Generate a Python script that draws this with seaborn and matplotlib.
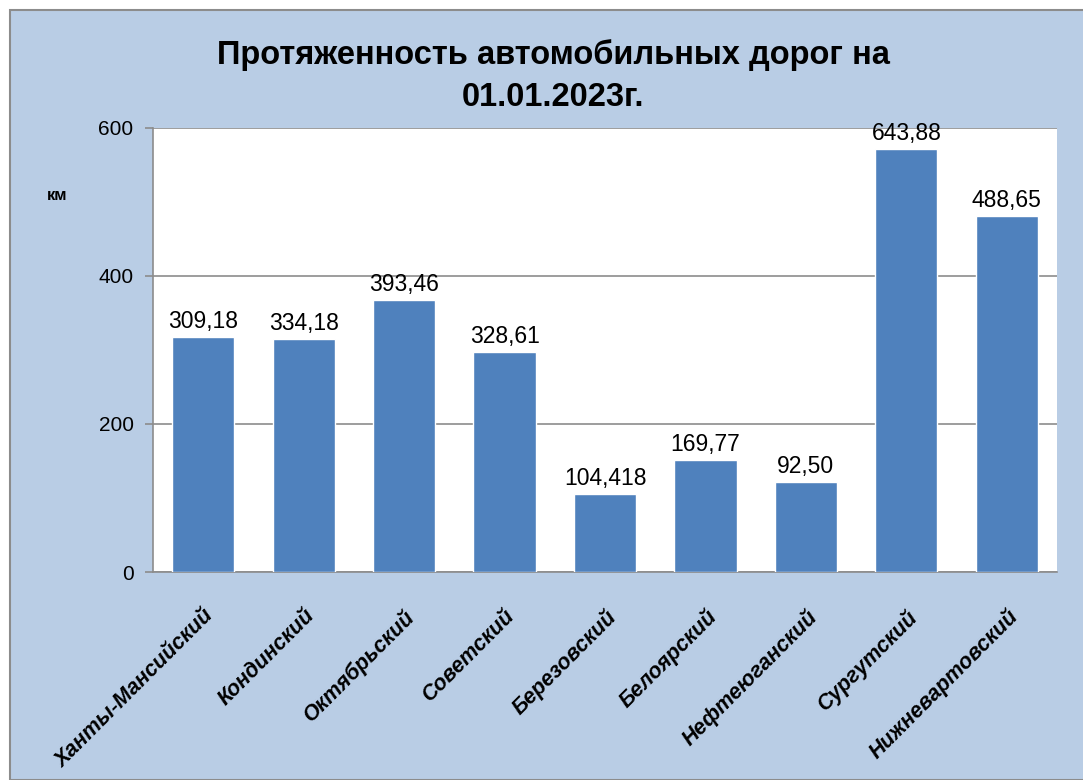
import matplotlib
matplotlib.use('Agg')
import matplotlib.pyplot as plt
import seaborn as sns
import pandas as pd

# районы и длины дорог (высоты столбцов, подписи - как на исходнике)
districts = ['Ханты-Мансийский', 'Кондинский', 'Октябрьский', 'Советский', 'Березовский',
             'Белоярский', 'Нефтеюганский', 'Сургутский', 'Нижневартовский']
heights = [317, 315, 367, 297, 105, 151, 122, 571, 481]
value_labels = ['309,18', '334,18', '393,46', '328,61', '104,418',
                '169,77', '92,50', '643,88', '488,65']
y_ticks = [0, 200, 400, 600]

df = pd.DataFrame({'district': districts, 'km': heights})

sns.set_style('white')
plt.rcParams['font.family'] = ['Liberation Sans', 'DejaVu Sans']
plt.rcParams['text.color'] = 'black'
plt.rcParams['xtick.color'] = 'black'
plt.rcParams['ytick.color'] = 'black'

fig = plt.figure(figsize=(10.83, 7.80), dpi=100)
fig.patch.set_facecolor('white')
# голубая подложка диаграммы
bg = plt.Rectangle((10 / 1083, 0), 1.0, 1 - 10 / 780, transform=fig.transFigure,
                   facecolor='#B9CDE5', edgecolor='#8C8C8C', linewidth=1.5, zorder=-5)
fig.patches.append(bg)

ax = fig.add_axes([153 / 1083, 1 - 572 / 780, (1057 - 153) / 1083, (572 - 128) / 780])
ax.set_zorder(2)
ax.set_facecolor('white')

sns.barplot(data=df, x='district', y='km', color='#4F81BD', width=0.62,
            saturation=1, ax=ax, zorder=3)

for i, (h, lab) in enumerate(zip(heights, value_labels)):
    ax.annotate(lab, (i, h), xytext=(0, 3), textcoords='offset points',
                ha='center', va='bottom', fontsize=16.5, color='black', zorder=4)

ax.set_xlim(-0.5, len(districts) - 0.5)
ax.set_ylim(0, 600)
ax.set_yticks(y_ticks)
ax.set_yticklabels([str(t) for t in y_ticks], fontsize=15)
ax.yaxis.grid(True, color='#8C8C8C', linewidth=1.2, zorder=0)
ax.set_axisbelow(True)

# деления оси X между категориями
ax.set_xticks([i - 0.5 for i in range(len(districts) + 1)], minor=False)
ax.set_xticklabels([])
ax.set_xticks(range(len(districts)), minor=True)
ax.set_xticklabels(districts, minor=True, rotation=45, ha='right',
                   rotation_mode='anchor', fontsize=15.5, fontweight='bold', style='italic')
ax.tick_params(axis='x', which='minor', length=0, pad=24)
ax.tick_params(axis='x', which='major', direction='out', length=6, color='#8C8C8C', width=1.2)
ax.tick_params(axis='y', direction='out', length=6, color='#8C8C8C', width=1.2, left=True, pad=8)
ax.set_xlabel('')
ax.set_ylabel('')

for side in ['top', 'right']:
    ax.spines[side].set_visible(False)
for side in ['left', 'bottom']:
    ax.spines[side].set_color('#8C8C8C')
    ax.spines[side].set_linewidth(1.2)

fig.text(57 / 1083, 1 - 195 / 780, 'км', ha='center', va='center', fontsize=12, fontweight='bold')
fig.text(553 / 1083, 1 - 76 / 780, 'Протяженность автомобильных дорог на\n01.01.2023г.',
         ha='center', va='center', fontsize=23.5, fontweight='bold', linespacing=1.45)

fig.savefig('out.png', dpi=100, facecolor=fig.get_facecolor())
